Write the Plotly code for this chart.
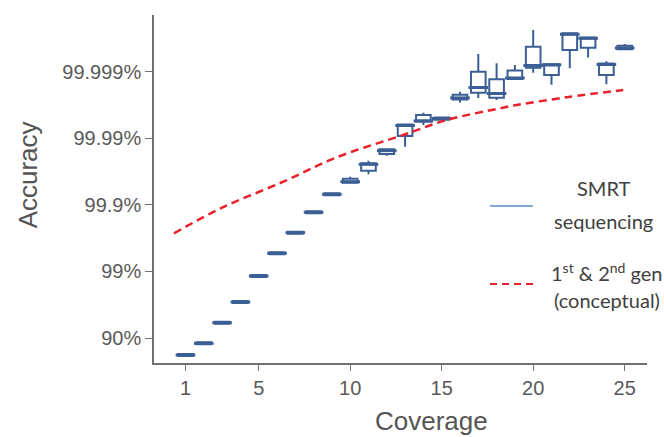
import plotly.graph_objects as go

# ---- data (accuracy expressed on phred scale, Q = -10*log10(error)) ----
coverage = list(range(1, 26))
q_low = [7.30, 9.05, 12.15, 15.26, 19.17, 22.59, 25.69, 28.70, 31.30, 33.35,
         34.62, 37.41, 38.77, 42.03, 42.78, 45.41, 46.09, 45.79, 48.95, 49.89,
         48.09, 50.56, 52.18, 48.15, 53.41]
q_q1 = [7.30, 9.05, 12.15, 15.26, 19.17, 22.59, 25.69, 28.75, 31.46, 33.35,
        35.16, 37.67, 40.38, 42.56, 42.80, 45.86, 46.89, 46.14, 48.95, 50.65,
        49.55, 53.31, 53.65, 49.55, 53.41]
q_med = [7.44, 9.20, 12.30, 15.41, 19.32, 22.74, 25.84, 28.90, 31.61, 33.50,
         36.12, 38.17, 41.95, 42.63, 43.00, 46.10, 47.67, 46.77, 49.10, 50.98,
         51.08, 55.67, 55.07, 51.13, 53.61]
q_q3 = [7.58, 9.35, 12.45, 15.56, 19.47, 22.89, 25.99, 29.05, 31.76, 33.96,
        36.27, 38.38, 42.10, 43.53, 43.16, 46.57, 50.05, 48.92, 50.23, 53.80,
        51.16, 55.82, 55.19, 51.28, 53.95]
q_high = [7.58, 9.35, 12.45, 15.56, 19.47, 22.89, 25.99, 29.10, 31.92, 34.26,
          36.66, 38.38, 42.20, 43.88, 43.16, 47.04, 52.71, 51.31, 51.05, 56.32,
          51.16, 55.82, 55.19, 51.61, 54.21]

# conceptual curve for 1st & 2nd generation sequencing
gen_x = [0.37, 3.0, 6.34, 9.26, 12.90, 15.27, 18.19, 19.10, 21.83, 24.92]
gen_q = [25.74, 29.6, 33.50, 37.17, 40.53, 42.78, 44.54, 45.04, 46.20, 47.29]

y_tickvals = [10, 20, 30, 40, 50]
y_ticktext = ["90%", "99%", "99.9%", "99.99%", "99.999%"]
x_tickvals = [1, 5, 10, 15, 20, 25]

legend_labels = [["SMRT", "sequencing"],
                 ["1<sup>st</sup> & 2<sup>nd</sup> gen", "(conceptual)"]]

BOX_COLOR = "#3b5f95"
RED = "#e8212b"
AXIS = "#707070"
TICKFONT = dict(family="Liberation Sans, Arial, sans-serif", size=20, color="#5a5a5a")

fig = go.Figure()

fig.add_trace(go.Box(
    x=coverage, q1=q_q1, median=q_med, q3=q_q3,
    lowerfence=q_low, upperfence=q_high,
    width=0.8, line=dict(color=BOX_COLOR, width=2),
    fillcolor="rgba(255,255,255,1)", whiskerwidth=0,
    showlegend=False, hoverinfo="skip",
))
# emphasised median bars
fig.add_trace(go.Scatter(
    x=coverage, y=q_med, mode="markers",
    marker=dict(symbol="line-ew", size=14, color=BOX_COLOR,
                line=dict(width=3, color=BOX_COLOR)),
    showlegend=False, hoverinfo="skip",
))

fig.add_trace(go.Scatter(
    x=gen_x, y=gen_q, mode="lines",
    line=dict(color=RED, width=2.5, dash="8px,5px", shape="spline"),
    showlegend=False, hoverinfo="skip",
))

fig.update_layout(
    width=664, height=437,
    margin=dict(l=154, r=17, t=15, b=74),
    paper_bgcolor="white", plot_bgcolor="white",
    xaxis=dict(
        range=[-0.721, 26.219], tickvals=x_tickvals, showgrid=False,
        zeroline=False, showline=True, linecolor=AXIS, linewidth=1.5,
        ticks="outside", ticklen=6, tickcolor=AXIS, tickwidth=1.2,
        tickfont=TICKFONT, automargin=False,
    ),
    yaxis=dict(
        range=[6.24, 58.57], tickvals=y_tickvals, ticktext=y_ticktext,
        showgrid=False, zeroline=False, showline=True, linecolor=AXIS,
        linewidth=1.5, ticks="outside", ticklen=7, tickcolor=AXIS,
        tickwidth=1.2, tickfont=TICKFONT, automargin=False,
    ),
    font=dict(family="Liberation Sans, Arial, sans-serif"),
)

TITLEFONT = dict(family="Liberation Sans, Arial, sans-serif", size=26, color="#555555")
fig.add_annotation(text="Coverage", xref="paper", yref="paper",
                   x=0.5635, y=-0.166, xanchor="center", yanchor="middle",
                   showarrow=False, font=TITLEFONT)
fig.add_annotation(text="Accuracy", xref="paper", yref="paper",
                   x=-0.255, y=0.540, xanchor="center", yanchor="middle",
                   textangle=-90, showarrow=False, font=TITLEFONT)

# legend (drawn manually to match the centered two-line labels)
LEGFONT = dict(family="Lato, sans-serif", size=20, color="#404040")
fig.add_shape(type="line", xref="paper", yref="paper",
              x0=0.6815, x1=0.7688, y0=0.4511, y1=0.4511,
              line=dict(color="#5b8cc8", width=1.5))
fig.add_shape(type="line", xref="paper", yref="paper",
              x0=0.6815, x1=0.7688, y0=0.227, y1=0.227,
              line=dict(color=RED, width=2, dash="7px,5px"))
leg_pos = [(0.9108, [0.5029, 0.4080]), (0.918, [0.2629, 0.1810])]
for (xc, ys), lines in zip(leg_pos, legend_labels):
    for yy, txt in zip(ys, lines):
        fig.add_annotation(text=txt, xref="paper", yref="paper", x=xc, y=yy,
                           xanchor="center", yanchor="middle",
                           showarrow=False, font=LEGFONT)

fig.write_html("out.html")
